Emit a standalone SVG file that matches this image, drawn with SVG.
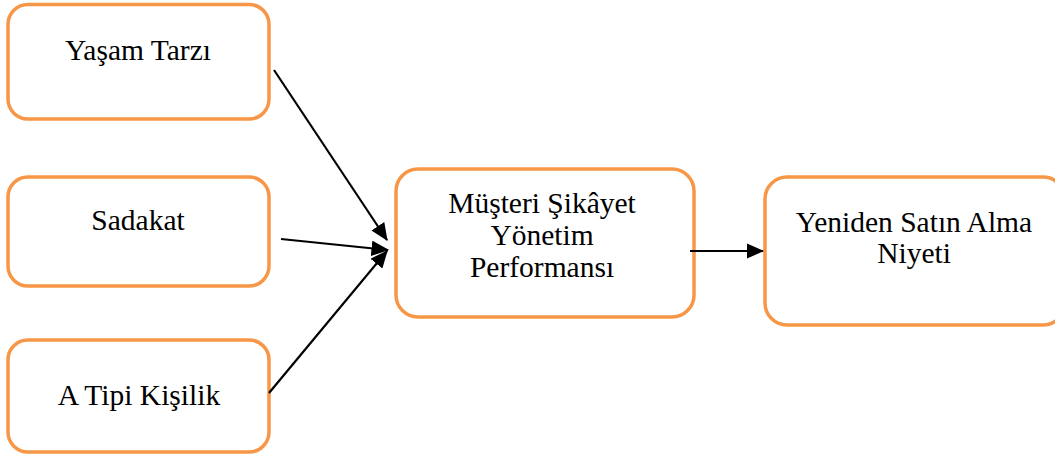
<svg xmlns="http://www.w3.org/2000/svg" width="1055" height="456" viewBox="0 0 1055 456">
<style>
.box{fill:#fff;stroke:#F79646;stroke-width:3.5}
text{font-family:'Liberation Serif','Times New Roman',serif;font-size:29.5px;fill:#000;text-anchor:middle}
.c{stroke:#000;stroke-width:2.2;fill:none}
</style>
<defs>
<marker id="ah" markerWidth="8" markerHeight="7" refX="7.5" refY="3.5" orient="auto" markerUnits="strokeWidth">
<path d="M0,0 L8,3.5 L0,7 Z" fill="#000"/>
</marker>
</defs>
<rect width="1055" height="456" fill="#fff"/>
<g id="n1"><rect class="box" x="8" y="4.5" width="261" height="114.5" rx="20"/><text x="138" y="60">Yaşam Tarzı</text></g>
<g id="n2"><rect class="box" x="8" y="177" width="261" height="109" rx="20"/><text x="138" y="230">Sadakat</text></g>
<g id="n3"><rect class="box" x="8" y="340" width="261" height="112" rx="20"/><text x="139" y="405">A Tipi Kişilik</text></g>
<g id="n4"><rect class="box" x="396" y="169" width="298" height="148" rx="22"/><text x="542" y="213">Müşteri Şikâyet</text><text x="542" y="245">Yönetim</text><text x="542" y="277">Performansı</text></g>
<g id="n5"><rect class="box" x="765" y="177" width="300" height="148" rx="22"/><text x="914" y="232">Yeniden Satın Alma</text><text x="914" y="263">Niyeti</text></g>
<g id="connectors">
<line class="c" x1="274" y1="70" x2="387" y2="240" marker-end="url(#ah)"/>
<line class="c" x1="281" y1="239" x2="388" y2="250" marker-end="url(#ah)"/>
<line class="c" x1="269" y1="393" x2="387" y2="251" marker-end="url(#ah)"/>
<line class="c" x1="690" y1="251" x2="763" y2="251" marker-end="url(#ah)"/>
</g>
</svg>
